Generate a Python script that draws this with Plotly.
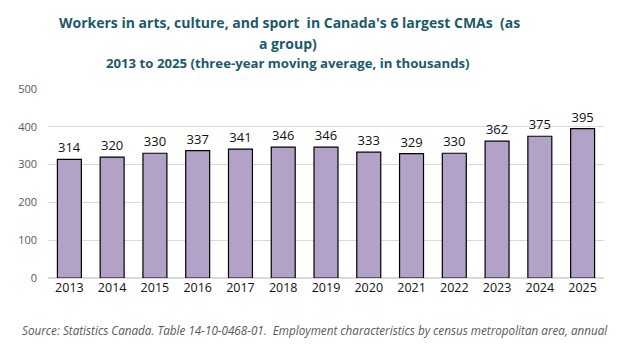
import plotly.graph_objects as go

years = ["2013", "2014", "2015", "2016", "2017", "2018", "2019", "2020", "2021", "2022", "2023", "2024", "2025"]
workers = [314, 320, 330, 337, 341, 346, 346, 333, 329, 330, 362, 375, 395]
y_ticks = [0, 100, 200, 300, 400, 500]

title_line1 = "Workers in arts, culture, and sport  in Canada's 6 largest CMAs  (as"
title_line2 = "a group)"
title_line3 = "2013 to 2025 (three-year moving average, in thousands)"
source = "Source: Statistics Canada. Table 14-10-0468-01.  Employment characteristics by census metropolitan area, annual"

font_family = "Open Sans, Noto Sans, sans-serif"
title_color = "#1B5A6B"

fig = go.Figure()
fig.add_trace(go.Bar(
    x=years, y=workers,
    marker=dict(color="#B3A2C8", line=dict(color="#000000", width=1.2)),
    text=[str(v) for v in workers], textposition="outside",
    textfont=dict(size=13, color="#111111", family=font_family),
    cliponaxis=False, width=0.56,
))

fig.update_layout(
    width=623, height=350,
    margin=dict(l=48, r=19, t=89, b=72),
    paper_bgcolor="white", plot_bgcolor="white",
    showlegend=False,
    font=dict(family=font_family),
    xaxis=dict(tickfont=dict(size=12.5, color="#111111"), showgrid=False, showline=False, ticks=""),
    yaxis=dict(range=[0, 500], tickvals=y_ticks, tickfont=dict(size=11, color="#595959"),
               gridcolor="#D9D9D9", gridwidth=1, zeroline=True, zerolinecolor="#D9D9D9",
               showline=False, ticks="", ticklabelstandoff=10),
    annotations=[
        dict(text="<b>" + title_line1 + "</b>", x=0.5, y=22, xref="paper", yref="paper", showarrow=False,
             font=dict(size=14, color=title_color, family=font_family)),
        dict(text="<b>" + title_line2 + "</b>", x=0.5, y=44, xref="paper", yref="paper", showarrow=False,
             font=dict(size=14, color=title_color, family=font_family)),
        dict(text="<b>" + title_line3 + "</b>", x=0.5, y=63, xref="paper", yref="paper", showarrow=False,
             font=dict(size=13.2, color=title_color, family=font_family)),
        dict(text="<i>" + source + "</i>", x=0.5, y=330, xref="paper", yref="paper", showarrow=False,
             font=dict(size=11.7, color="#595959", family=font_family)),
    ],
)

# Convert pixel positions of annotations to paper coordinates
plot_h = 350 - 89 - 72
plot_l = 48
plot_w = 623 - 48 - 19
centers = [289, 288, 288, 315]
for ann, cx in zip(fig.layout.annotations, centers):
    py = ann.y
    ann.y = (350 - 72 - py) / plot_h
    ann.x = (cx - plot_l) / plot_w
    ann.yanchor = "middle"
    ann.xanchor = "center"

fig.write_html("out.html")
